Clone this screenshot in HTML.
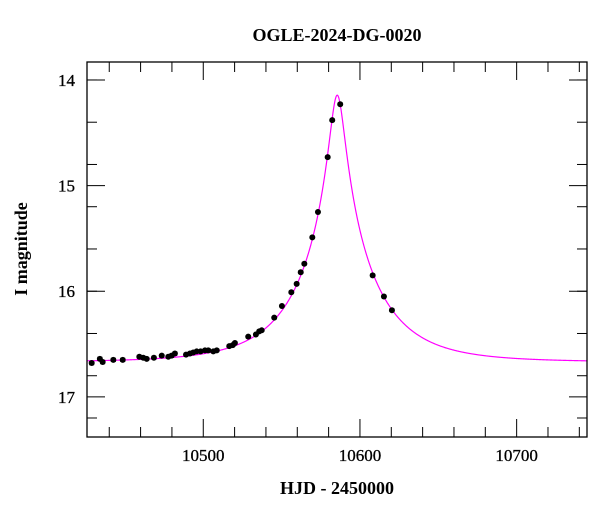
<!DOCTYPE html>
<html><head><meta charset="utf-8"><style>
body{margin:0;background:#fff;}
svg text{font-family:"Liberation Serif",serif;fill:#000;}
</style></head><body>
<svg id="chart" width="600" height="512" xmlns="http://www.w3.org/2000/svg">
<text x="337" y="41" font-size="18" font-weight="bold" text-anchor="middle">OGLE-2024-DG-0020</text>
<text x="337" y="494" font-size="18" font-weight="bold" text-anchor="middle">HJD - 2450000</text>
<text transform="translate(27,249) rotate(-90)" font-size="18" font-weight="bold" text-anchor="middle">I magnitude</text>
<g id="ticks"></g>
<path id="model" fill="none" stroke="#ff00ff" stroke-width="1.2"/>
<g id="pts"></g>
<rect x="87" y="62" width="500" height="375" fill="none" stroke="#000" stroke-width="1.3"/>
</svg>
<script>
const times=[10428.8,10434,10435.8,10442.6,10448.6,10459.2,10461.7,10463.9,10468.5,10473.5,10477.7,10479.8,10481.9,10489,10491.5,10493.6,10495.8,10498.3,10501.1,10503.2,10506.4,10508.6,10516.6,10518.8,10520.2,10528.7,10533.6,10535.7,10537.3,10545.3,10550.2,10556.2,10559.6,10562.2,10564.5,10569.6,10573.2,10579.4,10582.3,10587.4,10608.1,10615.3,10620.4];
const mags=[16.68,16.64,16.67,16.65,16.65,16.62,16.63,16.64,16.63,16.61,16.62,16.61,16.59,16.60,16.59,16.58,16.57,16.57,16.56,16.56,16.57,16.56,16.52,16.51,16.49,16.43,16.41,16.38,16.37,16.25,16.14,16.01,15.93,15.82,15.74,15.49,15.25,14.73,14.38,14.23,15.85,16.05,16.18];
const errs=[0.015,0.015,0.015,0.015,0.015,0.012,0.012,0.012,0.012,0.012,0.012,0.015,0.015,0.012,0.012,0.012,0.012,0.012,0.012,0.012,0.012,0.012,0.012,0.012,0.012,0.01,0.01,0.01,0.01,0.01,0.01,0.01,0.01,0.01,0.01,0.01,0.01,0.01,0.01,0.01,0.012,0.012,0.012];
const xTickLabels=[10500,10600,10700];
const yTickLabels=[14,15,16,17];
const model={base:16.67,t0:10585.5,u0:0.098,tE:46};
const X0=10425.8,X1=10744.9,Y0=13.83,Y1=17.38;
const L=87,R=587,T=62,B=437;
const sx=t=>L+(t-X0)/(X1-X0)*(R-L);
const sy=m=>T+(m-Y0)/(Y1-Y0)*(B-T);
const NS="http://www.w3.org/2000/svg";
function mk(tag,attrs,parent){const e=document.createElementNS(NS,tag);for(const k in attrs)e.setAttribute(k,attrs[k]);parent.appendChild(e);return e;}
const tg=document.getElementById('ticks');
for(let t=10440;t<=X1;t+=20){
  const major=xTickLabels.includes(t);const len=major?18:10;const x=sx(t);
  const a=mk('line',{x1:x,x2:x,y1:B,y2:B-len,stroke:'#000','stroke-width':1},tg);
  
  
  const b=mk('line',{x1:x,x2:x,y1:T,y2:T+len,stroke:'#000','stroke-width':1},tg);
  
  
}
xTickLabels.forEach(v=>{const e=mk('text',{x:sx(v),y:B+24,'font-size':17,'text-anchor':'middle',stroke:'#000','stroke-width':0.3},tg);e.textContent=v;
  
  });
for(let i=70;i<=173;i+=2){
  const m=i/5;const y=sy(m);
  if(y<T||y>B)continue;
  const a=mk('line',{x1:L,x2:L+10,y1:y,y2:y,stroke:'#000','stroke-width':1},tg);
  
  
  const b=mk('line',{x1:R,x2:R-10,y1:y,y2:y,stroke:'#000','stroke-width':1},tg);
  
  
}
for(let i=70;i<=85;i+=5){const y=sy(i/5);
  const a=mk('line',{x1:L,x2:L+18,y1:y,y2:y,stroke:'#000','stroke-width':1},tg);
  
  
  const b=mk('line',{x1:R,x2:R-18,y1:y,y2:y,stroke:'#000','stroke-width':1},tg);
  
  }
yTickLabels.forEach(v=>{const e=mk('text',{x:L-12,y:sy(v)+6,'font-size':17,'text-anchor':'end',stroke:'#000','stroke-width':0.3},tg);e.textContent=v;
  
  });
function mag(t){const tau=(t-model.t0)/model.tE;const u=Math.sqrt(tau*tau+model.u0*model.u0);
  const A=(u*u+2)/(u*Math.sqrt(u*u+4));return model.base-2.5*Math.log10(A);}
let d='';for(let t=X0;t<=X1;t+=0.25){d+=(d?'L':'M')+sx(t).toFixed(2)+','+sy(mag(t)).toFixed(2);}
document.getElementById('model').setAttribute('d',d);
const pg=document.getElementById('pts');
times.forEach((t,i)=>{const x=sx(t),y=sy(mags[i]),e=errs[i];
  const g=mk('g',{},pg);
  
  
  mk('line',{x1:x,x2:x,y1:sy(mags[i]-e),y2:sy(mags[i]+e),stroke:'#000','stroke-width':1.2},g);
  mk('line',{x1:x-2.5,x2:x+2.5,y1:sy(mags[i]-e),y2:sy(mags[i]-e),stroke:'#000','stroke-width':1},g);
  mk('line',{x1:x-2.5,x2:x+2.5,y1:sy(mags[i]+e),y2:sy(mags[i]+e),stroke:'#000','stroke-width':1},g);
  mk('circle',{cx:x,cy:y,r:3,fill:'#000'},g);
});
</script>
</body></html>
